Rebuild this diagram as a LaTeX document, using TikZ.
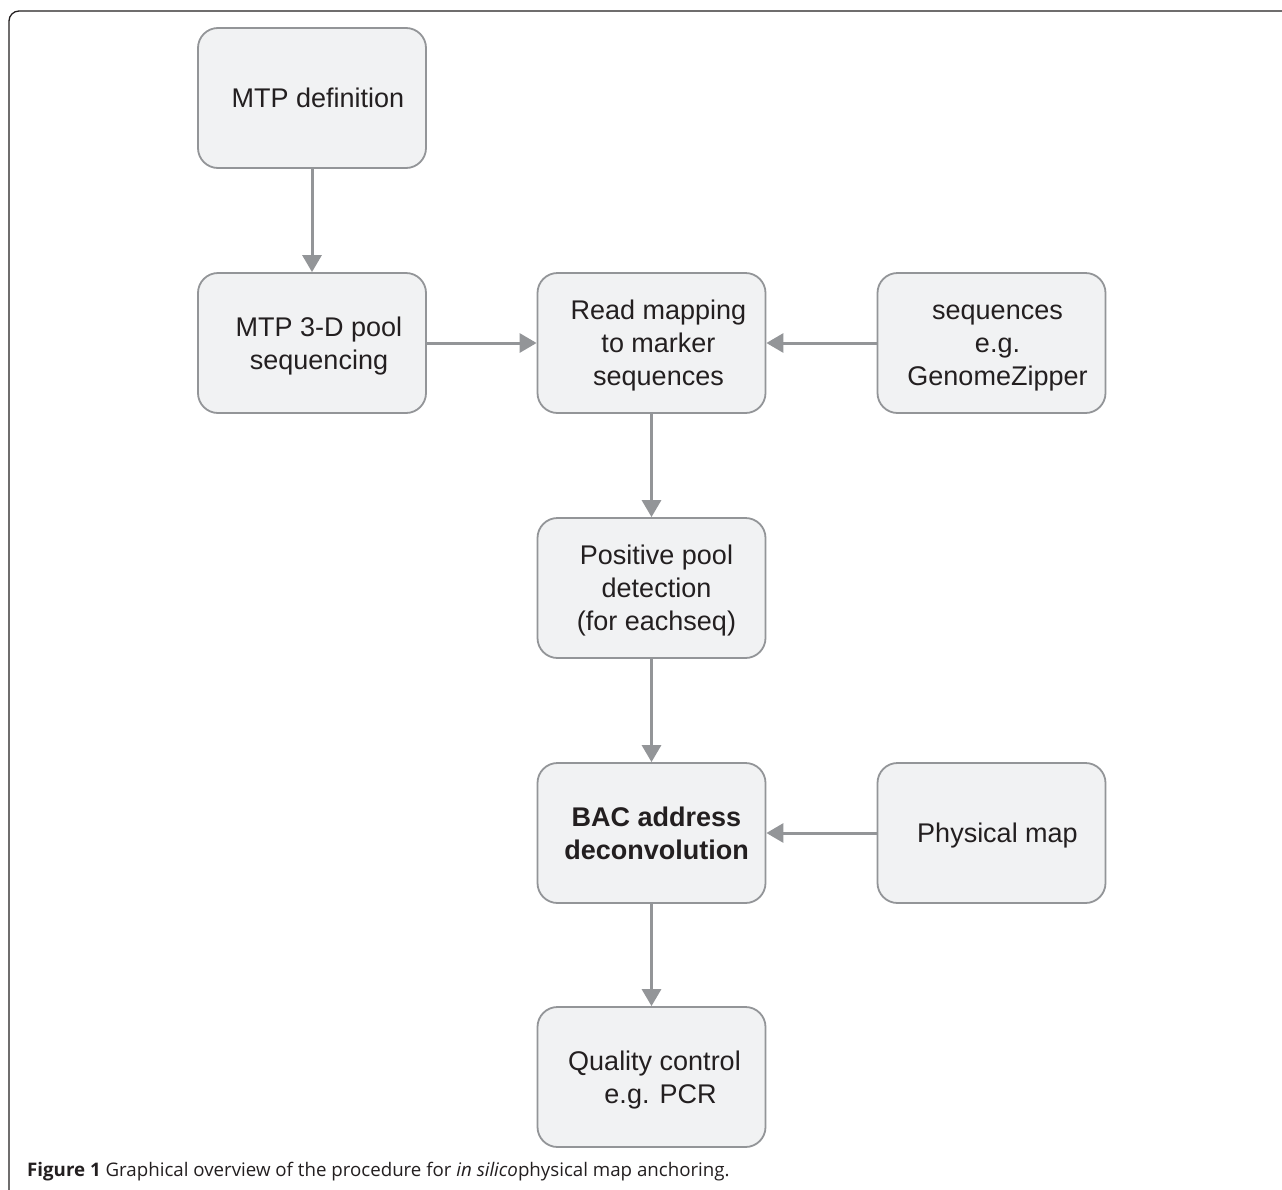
\documentclass[tikz,border=0pt]{standalone}
\usepackage{fontspec}
\setmainfont{Liberation Sans}
\newfontfamily\capfont{Open Sans}
\usetikzlibrary{arrows.meta}
\definecolor{boxfill}{HTML}{F1F2F3}
\definecolor{boxline}{HTML}{939598}
\definecolor{arrowgray}{HTML}{939598}
\definecolor{framecol}{HTML}{231F20}
\definecolor{inkcol}{HTML}{231F20}
\newcommand{\capstrut}{\rule{0pt}{19.4pt}}
\begin{document}
\begin{tikzpicture}[x=1pt,y=-1pt,
  stepbox/.style={draw=boxline, fill=boxfill, line width=1.8pt, rounded corners=20pt,
    minimum width=228pt, minimum height=140pt, inner sep=0pt},
  boxtext/.style={font=\fontsize{27}{33}\selectfont, align=center, text depth=0pt,
    inner sep=0pt, text=inkcol},
  flow/.style={draw=arrowgray, line width=3pt, -{Triangle[length=17pt,width=19pt]}},
]
\useasboundingbox (0,0) rectangle (1282,1189);
\fill[white] (0,0) rectangle (1282,1189);
\draw[framecol, line width=1.3pt, rounded corners=10pt] (9,1200) -- (9,11) -- (1295,11);

% boxes
\node[stepbox] (mtp)  at (312,98)    {};
\node[stepbox] (pool) at (312,343)   {};
\node[stepbox] (read) at (651.5,343) {};
\node[stepbox] (seqs) at (991.5,343) {};
\node[stepbox] (pos)  at (651.5,588) {};
\node[stepbox] (bac)  at (651.5,833) {};
\node[stepbox] (phys) at (991.5,833) {};
\node[stepbox] (qc)   at (651.5,1077){};

% texts
\node[boxtext] (mtpT)  at ([xshift=6pt]mtp.center)  {\capstrut MTP definition};
\node[boxtext] (poolT) at ([xshift=7pt]pool.center) {\capstrut MTP 3-D pool\\sequencing};
\node[boxtext] (readT) at ([xshift=7pt]read.center) {\capstrut Read mapping\\to marker\\sequences};
\node[boxtext] (seqsT) at ([xshift=6pt]seqs.center) {\capstrut sequences\\e.g.\\GenomeZipper};
\node[boxtext] (posT)  at ([xshift=5pt]pos.center)  {\capstrut Positive pool\\detection\\(for eachseq)};
\node[boxtext, font=\fontsize{27}{33}\selectfont\bfseries] (bacT) at ([xshift=5pt]bac.center) {\capstrut BAC address\\deconvolution};
\node[boxtext] (physT) at ([xshift=6pt]phys.center) {\capstrut Physical map};
\node[boxtext] (qcT)   at ([xshift=3pt]qc.center)   {\capstrut Quality control\\\hspace*{12pt}e.g. PCR};

% connectors
\draw[flow] (mtp) -- (pool);
\draw[flow] (pool) -- (read);
\draw[flow] (seqs) -- (read);
\draw[flow] (read) -- (pos);
\draw[flow] (pos) -- (bac);
\draw[flow] (phys) -- (bac);
\draw[flow] (bac) -- (qc);

% caption
\node[anchor=base west, inner sep=0pt, text=inkcol, font=\capfont\fontsize{18.7}{22}\selectfont] (caption) at (27,1176)
  {\textbf{Figure 1} Graphical overview of the procedure for \textit{in silico}physical map anchoring.};
\end{tikzpicture}
\end{document}
